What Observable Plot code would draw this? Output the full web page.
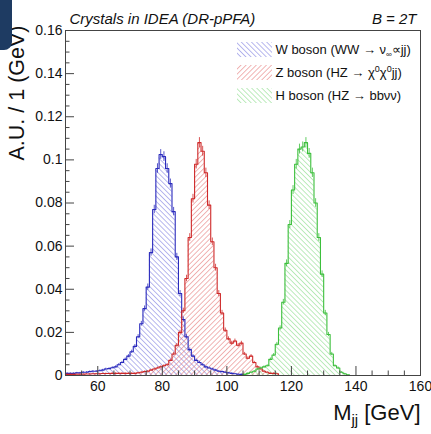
<!DOCTYPE html>
<html>
<head>
<meta charset="utf-8">
<script src="https://cdn.jsdelivr.net/npm/d3@7"></script>
<script src="https://cdn.jsdelivr.net/npm/@observablehq/plot@0.6"></script>
<style>
  html, body { margin: 0; padding: 0; background: #fff; }
  #wrap { position: relative; width: 431px; height: 434px; overflow: hidden; }
  #tab { position: absolute; left: 0; top: 0; width: 12px; height: 50px; background: #1e3b62; border-bottom-right-radius: 8px; z-index: 2; }
</style>
</head>
<body>
<div id="wrap"><div id="tab"></div></div>
<script>
// ---- data (normalized histograms, 1 GeV bins, first bin lower edge given) ----
const wStart = 50;
const wValues = [0.001,0.001,0.001,0.0012,0.0012,0.0015,0.0015,0.0018,0.002,0.002,
  0.0022,0.0025,0.003,0.0032,0.0036,0.004,0.005,0.006,0.0075,0.009,
  0.011,0.0135,0.018,0.024,0.031,0.041,0.057,0.077,0.096,0.1025,
  0.1015,0.096,0.089,0.076,0.055,0.038,0.026,0.018,0.012,0.009,
  0.007,0.006,0.005,0.004,0.0035,0.003,0.0025,0.002,0.0018,0.0015,
  0.0012,0.001,0.0008,0.0006,0.0005];
const zStart = 50;
const zValues = [0.0005,0.0005,0.0005,0.0006,0.0006,0.0006,0.0007,0.0007,0.0008,0.0008,
  0.0008,0.0009,0.0009,0.0009,0.001,0.001,0.001,0.001,0.001,0.001,
  0.001,0.001,0.0012,0.0015,0.0018,0.002,0.0025,0.003,0.0035,0.004,
  0.0045,0.005,0.007,0.01,0.014,0.02,0.03,0.045,0.064,0.082,
  0.098,0.108,0.104,0.094,0.079,0.062,0.05,0.038,0.029,0.021,
  0.017,0.015,0.016,0.014,0.015,0.01,0.008,0.009,0.006,0.004,
  0.003,0.002,0.0015,0.001,0.001,0.0008];
const hStart = 105;
const hValues = [0.0005,0.001,0.0015,0.002,0.003,0.0035,0.004,0.0045,0.0075,0.0095,
  0.0145,0.022,0.034,0.052,0.070,0.086,0.098,0.105,0.106,0.108,
  0.103,0.094,0.080,0.064,0.047,0.029,0.019,0.010,0.0045,0.0035,
  0.0015,0.0008,0.0003];
const nEvents = 20000; // assumed sample size for statistical error bars

const xTicks = [60, 80, 100, 120, 140, 160];
const yTicks = [0, 0.02, 0.04, 0.06, 0.08, 0.1, 0.12, 0.14, 0.16];
const xMinorTicks = [55, 65, 70, 75, 85, 90, 95, 105, 110, 115, 125, 130, 135, 145, 150, 155];
const yMinorTicks = [0.005,0.01,0.015,0.025,0.03,0.035,0.045,0.05,0.055,0.065,0.07,0.075,
  0.085,0.09,0.095,0.105,0.11,0.115,0.125,0.13,0.135,0.145,0.15,0.155];

const title = "Crystals in IDEA (DR-pPFA)";
const fieldLabel = "B = 2T";
const yLabel = "A.U. / 1 (GeV)";
const xLabel = "Mjj [GeV]";
const legendLabels = ["W boson (WW → ν∞∝jj)", "Z boson (HZ → χ0χ0jj)", "H boson (HZ → bbνν)"];

// ---- build step series ----
function steps(start, values, name) {
  const pts = [{x: start, y: 0, s: name}];
  values.forEach((v, i) => pts.push({x: start + i, y: v, s: name}));
  pts.push({x: start + values.length, y: 0, s: name});
  return pts;
}
function bars(start, values) {
  return values.map((v, i) => ({x: start + i + 0.5, lo: v - Math.sqrt(v / nEvents), hi: v + Math.sqrt(v / nEvents)}));
}
const series = [
  {name: "W", data: steps(wStart, wValues, "W"), err: bars(wStart, wValues), line: "#2b2bbd", pat: "hatchW"},
  {name: "Z", data: steps(zStart, zValues, "Z"), err: bars(zStart, zValues), line: "#cf2a2a", pat: "hatchZ"},
  {name: "H", data: steps(hStart, hValues, "H"), err: bars(hStart, hValues), line: "#3cbf3c", pat: "hatchH"}
];

// px per data unit helpers for tick lengths (style only)
const xPxPerUnit = (431 - 65 - 11) / 110;
const yPxPerUnit = (434 - 30 - 59) / 0.16;
const majX = 9 / xPxPerUnit, minX = 4.5 / xPxPerUnit;
const majY = 9 / yPxPerUnit, minY = 4.5 / yPxPerUnit;

const marks = [];
for (const s of series) {
  marks.push(Plot.areaY(s.data, {x: "x", y: "y", curve: "step-after", fill: `url(#${s.pat})`}));
}
for (const s of series) {
  marks.push(Plot.lineY(s.data, {x: "x", y: "y", curve: "step-after", stroke: s.line, strokeWidth: 1.1}));
  marks.push(Plot.ruleX(s.err, {x: "x", y1: "lo", y2: "hi", stroke: s.line, strokeWidth: 1, strokeOpacity: 0.8}));
}
// inward ticks
marks.push(Plot.ruleY(yTicks, {x1: 50, x2: 50 + majX, stroke: "#444"}));
marks.push(Plot.ruleY(yMinorTicks, {x1: 50, x2: 50 + minX, stroke: "#444"}));
marks.push(Plot.ruleX(xTicks, {y1: 0, y2: majY, stroke: "#444"}));
marks.push(Plot.ruleX(xMinorTicks, {y1: 0, y2: minY, stroke: "#444"}));
marks.push(Plot.frame({stroke: "#444", strokeWidth: 1}));
// axes labels (tick text)
marks.push(Plot.axisY(yTicks, {tickSize: 0, tickPadding: 3, fontSize: 14, label: null,
  tickFormat: d => d === 0 ? "0" : String(+d.toFixed(2))}));
marks.push(Plot.axisX(xTicks, {tickSize: 0, tickPadding: 6, fontSize: 14, label: null, tickFormat: d => String(d)}));
// titles
marks.push(Plot.text([title], {frameAnchor: "top-left", dx: 4, dy: -7, textAnchor: "start", lineAnchor: "bottom", fontSize: 15, fontStyle: "italic"}));
marks.push(Plot.text([fieldLabel], {frameAnchor: "top-right", dx: -4, dy: -7, textAnchor: "end", lineAnchor: "bottom", fontSize: 15, fontStyle: "italic"}));
marks.push(Plot.text([yLabel], {frameAnchor: "top-left", dx: -48, dy: -5, rotate: -90, textAnchor: "end", lineAnchor: "middle", fontSize: 21.5}));
marks.push(Plot.text([xLabel], {frameAnchor: "bottom-right", dx: 0, dy: 44, textAnchor: "end", lineAnchor: "bottom", fontSize: 22}));
// legend
series.forEach((s, i) => {
  marks.push(Plot.rect([0], {insetLeft: 172, insetRight: 148, insetTop: 12 + 23 * i, insetBottom: 345 - 27 - 23 * i,
    fill: `url(#${s.pat})`}));
  marks.push(Plot.text([legendLabels[i]], {frameAnchor: "top-left", dx: 210, dy: 19 + 23 * i, textAnchor: "start", lineAnchor: "middle", fontSize: 13}));
});

const svg = Plot.plot({
  width: 431, height: 434,
  marginLeft: 65, marginRight: 11, marginTop: 30, marginBottom: 59,
  x: {domain: [50, 160]},
  y: {domain: [0, 0.16]},
  style: {fontFamily: "'Liberation Sans', Arial, Helvetica, sans-serif", background: "#fff", color: "#111"},
  marks
});

// hatch patterns
svg.insertAdjacentHTML("afterbegin", `<defs>
  <pattern id="hatchW" patternUnits="userSpaceOnUse" width="3.6" height="3.6" patternTransform="rotate(-45)">
    <line x1="0" y1="0" x2="0" y2="3.6" stroke="#6f6fdc" stroke-width="1"/></pattern>
  <pattern id="hatchZ" patternUnits="userSpaceOnUse" width="3.6" height="3.6" patternTransform="rotate(45)">
    <line x1="0" y1="0" x2="0" y2="3.6" stroke="#e26a6a" stroke-width="1"/></pattern>
  <pattern id="hatchH" patternUnits="userSpaceOnUse" width="3.6" height="3.6" patternTransform="rotate(-45)">
    <line x1="0" y1="0" x2="0" y2="3.6" stroke="#7ad87a" stroke-width="1"/></pattern>
</defs>`);

// rich text (sub/superscripts)
const rich = {
  [legendLabels[0]]: 'W boson (WW → ν<tspan dy="3" font-size="8">∞</tspan><tspan dy="-3">∝jj)</tspan>',
  [legendLabels[1]]: 'Z boson (HZ → χ<tspan dy="-5" font-size="9">0</tspan><tspan dy="5">χ</tspan><tspan dy="-5" font-size="9">0</tspan><tspan dy="5">jj)</tspan>',
  [xLabel]: 'M<tspan dy="5" font-size="15">jj</tspan><tspan dy="-5"> [GeV]</tspan>'
};
svg.querySelectorAll("text").forEach(t => {
  if (rich[t.textContent] !== undefined) t.innerHTML = rich[t.textContent];
});
document.getElementById("wrap").appendChild(svg);
</script>
</body>
</html>
